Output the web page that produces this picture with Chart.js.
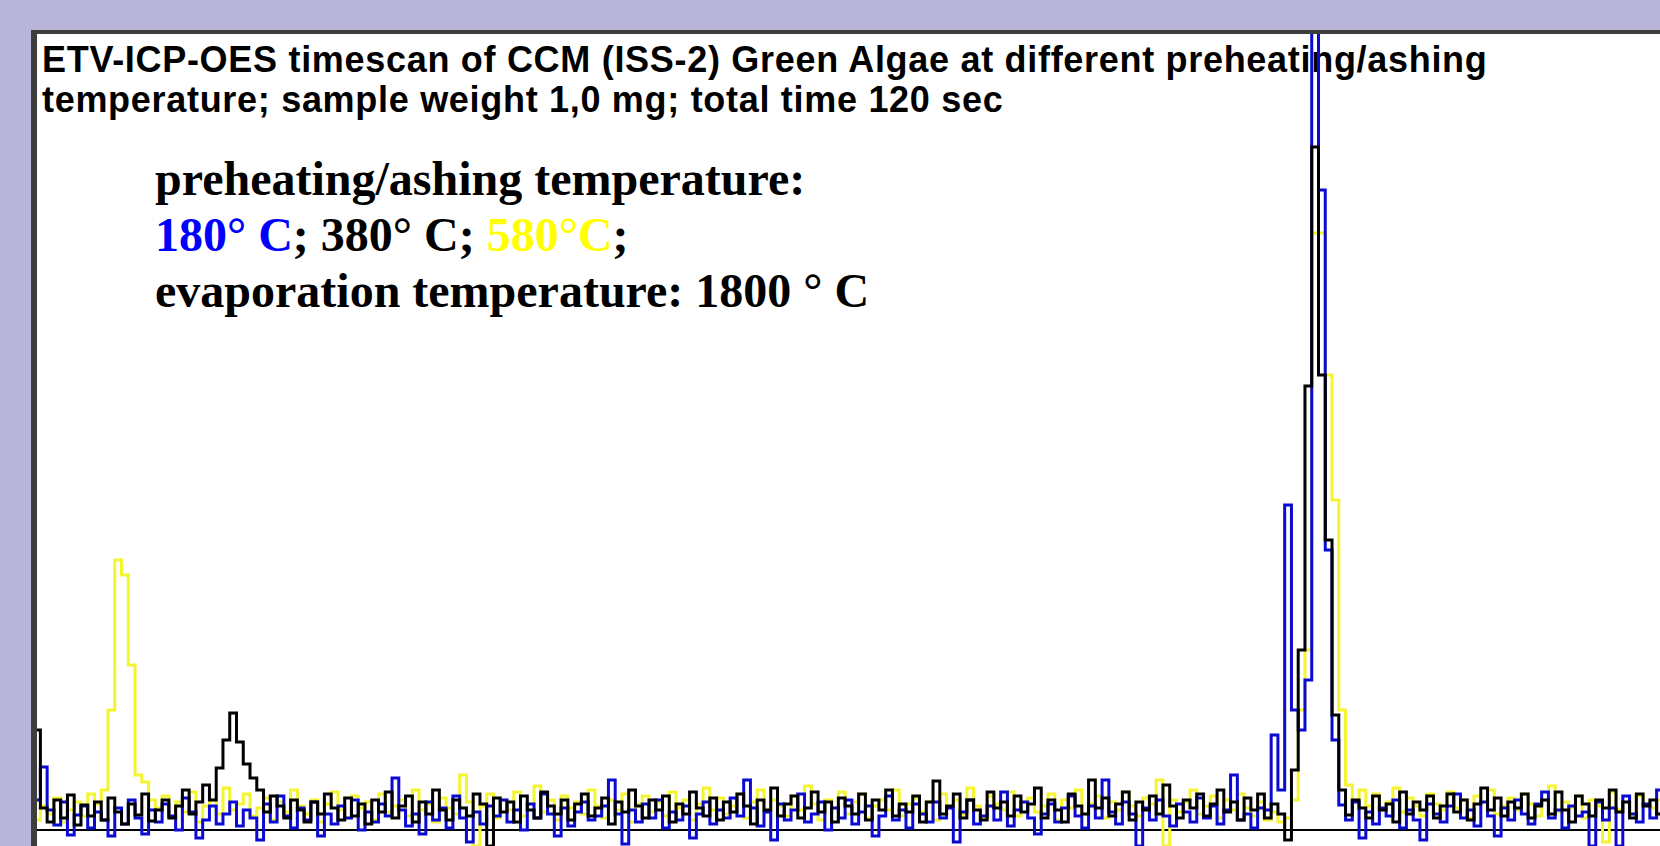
<!DOCTYPE html>
<html>
<head>
<meta charset="utf-8">
<script src="https://cdn.jsdelivr.net/npm/chart.js@4.4.0/dist/chart.umd.min.js"></script>
<style>
html, body { margin: 0; padding: 0; width: 1660px; height: 846px; overflow: hidden; background: #b9b5d8; }
#panel { position: absolute; left: 31px; top: 30px; width: 1629px; height: 816px; box-sizing: border-box;
         background: #fff; border-top: 4px solid #3e3e3e; border-left: 6px solid #3e3e3e; }
#title { position: absolute; left: 42px; top: 40px; font: bold 36px "Liberation Sans", Arial, sans-serif;
         letter-spacing: 0.7px; line-height: 40px; color: #000; white-space: nowrap; }
#legendText { position: absolute; left: 155px; top: 151px; font: bold 48px "Liberation Serif", "Times New Roman", serif;
              line-height: 56px; color: #000; white-space: nowrap; }
#wrap { position: absolute; left: 37px; top: 34px; width: 1623px; height: 812px; }
</style>
</head>
<body>
<div id="panel"></div>
<div id="title">ETV-ICP-OES timescan of CCM (ISS-2) Green Algae at different preheating/ashing<br>temperature; sample weight 1,0 mg; total time 120 sec</div>
<div id="legendText">preheating/ashing temperature:<br><span style="color:#0000ff">180° C</span>; 380° C; <span style="color:#ffff00">580°C</span>;<br>evaporation temperature: 1800 ° C</div>
<div id="wrap"><canvas id="scan"></canvas></div>
<script>
// timescan, 0.5 s steps over 120 s; values = signal height above baseline
var timeSec = Array.from({ length: 241 }, function (_, i) { return i * 0.5; });

var ash380 = [
  100, 22, 8, 30, 12, 35, 5, 25, 14, 28,
  10, 32, 18, 6, 26, 15, 36, 9, 20, 30,
  12, 24, 40, 16, 28, 45, 30, 62, 90, 117,
  88, 66, 52, 40, 18, 34, 24, 12, 30, 20,
  8, 28, 16, 36, 22, 10, 32, 14, 26, 6,
  30, 18, 38, 12, 24, 34, 8, 28, 16, 40,
  20, 10, 30, 22, 14, 36, 26, -16, 32, 18,
  28, 8, 34, 20, 12, 38, 24, 16, 30, 10,
  26, 36, 14, 22, 32, 6, 28, 18, 40, 24,
  12, 30, 20, 34, 8, 26, 16, 38, 22, 14,
  32, 10, 28, 18, 36, 24, 6, 30, 20, 42,
  14, 26, 34, 12, 22, 38, 18, 28, 8, 32,
  24, 16, 36, 10, 30, 20, 40, 14, 26, 18,
  34, 8, 28, 49, 16, 24, 36, 12, 30, 20,
  10, 38, 22, 28, 14, 34, 18, 26, 42, 12,
  30, 20, 8, 36, 24, 16, 50, 22, 32, 14,
  26, 38, 10, 28, 20, 34, 16, 45, 24, 12,
  30, 22, 36, 14, 26, 40, 18, 28, 10, 32,
  20, 36, 12, 26, 16, -10, 60, 180, 444, 683,
  455, 290, 115, 40, 15, 30, 22, 12, 34, 20,
  26, 8, 38, 16, 28, 20, 34, 12, 24, 36,
  18, 30, 10, 26, 42, 20, 32, 14, 28, 22,
  36, 12, 24, 30, 16, 38, 20, 8, 34, 26,
  14, 30, 22, 40, 18, 28, 12, 36, 24, 30, 16
];

var ash180 = [
  30, 63, 20, 5, 28, -5, 15, 24, 2, 18,
  10, -6, 22, 6, 30, 12, -4, 20, 8, 26,
  14, 0, 32, 18, -8, 10, 24, 6, 16, 28,
  4, 20, 12, -10, 26, 8, 34, 14, 2, 22,
  10, 28, -6, 16, 6, 24, 12, 30, 0, 18,
  8, 26, 14, 52, 20, 4, 16, -4, 28, 10,
  22, 2, 34, 12, -12, 18, 6, 24, 14, 30,
  8, 20, 0, 26, 12, 36, 16, -6, 22, 4,
  18, 28, 10, 14, 24, 50, 16, -14, 20, 8,
  26, 12, 30, 2, 18, 10, 24, -8, 16, 28,
  6, 20, 12, 32, 14, 50, 22, 4, 18, -10,
  26, 10, 20, 36, 8, 16, 28, 0, 22, 12,
  30, 6, 18, 24, -6, 14, 34, 10, 20, 2,
  26, 16, 8, 28, 12, 22, -12, 18, 30, 6,
  14, 24, 10, 38, 4, 20, 28, 12, -4, 16,
  26, 8, 22, 34, 14, 2, 24, 12, 50, 18,
  6, 28, 16, -16, 22, 10, 30, 14, 4, 26,
  18, 8, 32, 12, 24, 6, 20, 55, 10, 16,
  2, 22, 20, 95, 40, 325, 120, 100, 150, 950,
  640, 280, 90, 25, 10, 28, -8, 18, 6, 22,
  14, 30, 2, 20, 10, -10, 26, 16, 8, 24,
  36, 12, 20, 4, 28, 14, -6, 22, 10, 30,
  16, 6, 26, 38, 12, 20, 2, 24, 14, 18,
  -16, 28, 10, 22, -16, 34, 16, 8, 26, 12, 40
];

var ash580 = [
  10, 24, 16, 32, 8, 20, 28, 14, 36, 26,
  40, 120, 270, 255, 165, 55, 48, 30, 22, 34,
  12, 28, 18, 38, 8, 24, 30, 16, 42, 20,
  26, 36, 14, 22, 32, 10, 28, 18, 40, 24,
  16, 30, 8, 26, 38, 20, 12, 34, 22, 28,
  10, 36, 18, 24, 30, 14, 40, 20, 26, 8,
  32, 22, 16, 55, 28, -16, 24, 36, 12, 30,
  20, 38, 14, 26, 44, 18, 30, 10, 34, 22,
  28, 16, 40, 24, 12, 30, 20, 36, 8, 26,
  34, 18, 28, 14, 38, 22, 30, 10, 26, 42,
  20, 32, 16, 24, 36, 12, 28, 40, 18, 30,
  24, 14, 34, 20, 44, 26, 10, 30, 22, 38,
  16, 28, 36, 12, 24, 30, 20, 40, 14, 26,
  32, 18, 28, 10, 36, 22, 30, 16, 42, 24,
  12, 34, 26, 20, 38, 14, 28, 32, 18, 24,
  36, 10, 30, 22, 40, 16, 26, 34, 12, 28,
  20, 38, 24, 14, 32, 26, 50, -16, 30, 18,
  28, 40, 16, 24, 34, 12, 30, 20, 36, 22,
  14, 28, 10, 18, 8, 12, 30, 120, 180, 597,
  597, 455, 330, 120, 45, 30, 40, 24, 36, 20,
  28, 42, 18, 32, 24, 14, 36, 26, 20, 38,
  22, 30, 12, 34, 28, 40, 16, 24, 32, 20,
  36, 26, 14, 30, 44, 18, 28, 22, 34, 12,
  30, 24, -12, 38, 20, 28, 16, 34, 26, 22, 30
];

var canvasElement = document.getElementById("scan");
var config = {
    type: "line",
    data: {
        labels: timeSec,
        datasets: [{
            label: "380° C",
            data: ash380,
            borderColor: "#000000",
        }, {
            label: "180° C",
            data: ash180,
            borderColor: "#0a0ad2",
        }, {
            label: "580° C",
            data: ash580,
            borderColor: "#f4f430",
        }]
    },
    options: {
        animation: false,
        responsive: true,
        maintainAspectRatio: false,
        layout: { padding: 0 },
        elements: {
            line: { borderWidth: 3, tension: 0, stepped: "middle" },
            point: { radius: 0 }
        },
        plugins: {
            legend: { display: false },
            tooltip: { enabled: false }
        },
        scales: {
            x: { display: false, offset: false },
            y: {
                min: -16,
                max: 796,
                afterBuildTicks: function (axis) { axis.ticks = [{ value: 0 }]; },
                ticks: { display: false },
                border: { display: false },
                grid: { color: "#000000", lineWidth: 2, drawTicks: false }
            }
        }
    }
};

var scanChart = new Chart(canvasElement, config);
</script>
</body>
</html>
